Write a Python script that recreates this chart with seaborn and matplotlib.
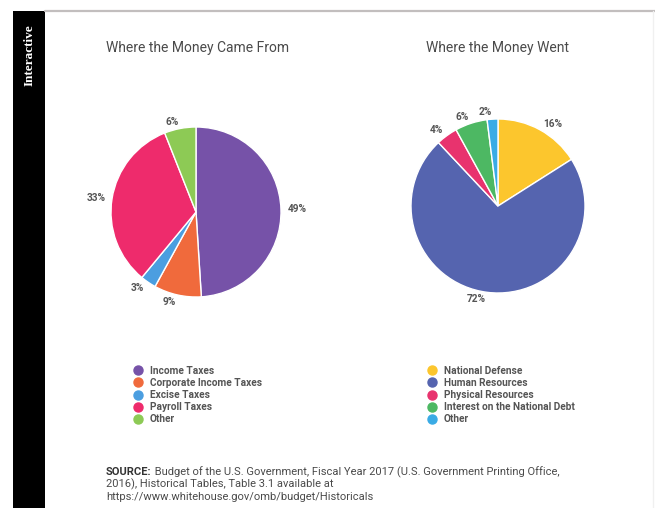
import matplotlib
matplotlib.use("Agg")
import matplotlib.pyplot as plt
import seaborn as sns
from matplotlib.lines import Line2D
from matplotlib.patches import Rectangle

# ==========================================
# Data
# ==========================================
came_labels = ["Income Taxes", "Corporate Income Taxes", "Excise Taxes",
               "Payroll Taxes", "Other"]
came_values = [49, 9, 3, 33, 6]
came_colors = ["#7652a8", "#f06a3c", "#4b9ee0", "#ee2b6c", "#8dca55"]

went_labels = ["National Defense", "Human Resources", "Physical Resources",
               "Interest on the National Debt", "Other"]
went_values = [16, 72, 4, 6, 2]
went_colors = ["#fcc62d", "#5564af", "#e8336e", "#4db863", "#3aabe5"]

source_bold = "SOURCE:"
source_rest = " Budget of the U.S. Government, Fiscal Year 2017 (U.S. Government Printing Office,"
source_lines = ["2016), Historical Tables, Table 3.1 available at",
                "https://www.whitehouse.gov/omb/budget/Historicals"]

# ==========================================
# Style
# ==========================================
sns.set_theme(style="white")
plt.rcParams["font.family"] = ["Roboto", "DejaVu Sans"]

W, H = 655, 508
fig = plt.figure(figsize=(W / 100, H / 100), dpi=100)
fig.patch.set_facecolor("white")

txt_col = "#4a4a4a"
lab_col = "#555555"


def fx(px):
    return px / W


def fy(py):
    return 1 - py / H


def draw_pie(cx, cy, r, values, colors):
    box = 2.5 * r
    ax = fig.add_axes([fx(cx - box / 2), fy(cy + box / 2), box / W, box / H])
    pal = sns.color_palette(colors)
    wedges, texts = ax.pie(
        values,
        labels=[f"{v}%" for v in values],
        colors=pal,
        startangle=90,
        counterclock=False,
        labeldistance=1.08,
        wedgeprops=dict(edgecolor="white", linewidth=1),
        textprops=dict(fontsize=7.3, fontweight="bold", color=lab_col),
    )
    ax.set_xlim(-1.25, 1.25)
    ax.set_ylim(-1.25, 1.25)
    ax.set_aspect("equal")
    ax.axis("off")
    return ax


draw_pie(196, 212, 85, came_values, came_colors)
draw_pie(498, 206, 87, went_values, went_colors)

# titles
fig.text(fx(198), fy(48), "Where the Money Came From", ha="center", va="center",
         fontsize=10, color=txt_col)
fig.text(fx(498), fy(48), "Where the Money Went", ha="center", va="center",
         fontsize=10, color=txt_col)


# legends
def draw_legend(x_left, y_top, labels, colors):
    handles = [Line2D([0], [0], marker="o", linestyle="", markersize=6.5,
                      markerfacecolor=c, markeredgecolor=c) for c in colors]
    leg = fig.legend(handles, labels, loc="upper left",
                     bbox_to_anchor=(fx(x_left), fy(y_top)),
                     frameon=False, borderpad=0, borderaxespad=0,
                     handlelength=0.8, handletextpad=0.75, labelspacing=0.2,
                     prop=dict(family=["Roboto", "DejaVu Sans"], size=7.3, weight="bold"))
    for t in leg.get_texts():
        t.set_color(lab_col)
    return leg


draw_legend(134, 366, came_labels, came_colors)
draw_legend(428, 366, went_labels, went_colors)

# source note
renderer = fig.canvas.get_renderer()
sb = fig.text(fx(106), fy(472), source_bold, ha="left", va="center",
              fontsize=8, fontweight="bold", color="#333333")
bb = sb.get_window_extent(renderer=renderer)
fig.text(bb.x1 / W, fy(472), source_rest, ha="left", va="center",
         fontsize=8, color=txt_col)
for i, line in enumerate(source_lines):
    fig.text(fx(106), fy(484.5 + 12.5 * i), line, ha="left", va="center",
             fontsize=8, color=txt_col)

# frame decorations
fig.patches.append(Rectangle((fx(13), 0), fx(45) - fx(13), fy(11), transform=fig.transFigure,
                             facecolor="black", edgecolor="none", zorder=0))
fig.add_artist(Line2D([fx(45), 1], [fy(11), fy(11)], transform=fig.transFigure,
                      color="#c2bebe", linewidth=1.6))
fig.add_artist(Line2D([fx(653), fx(653)], [fy(11), 0], transform=fig.transFigure,
                      color="#f0f0f0", linewidth=1))
fig.text(fx(30), fy(55), "Interactive", rotation=90, ha="center", va="center",
         fontsize=9.5, color="white", fontweight="bold",
         family=["Liberation Serif", "DejaVu Serif"])

fig.savefig("out.png", dpi=100)
